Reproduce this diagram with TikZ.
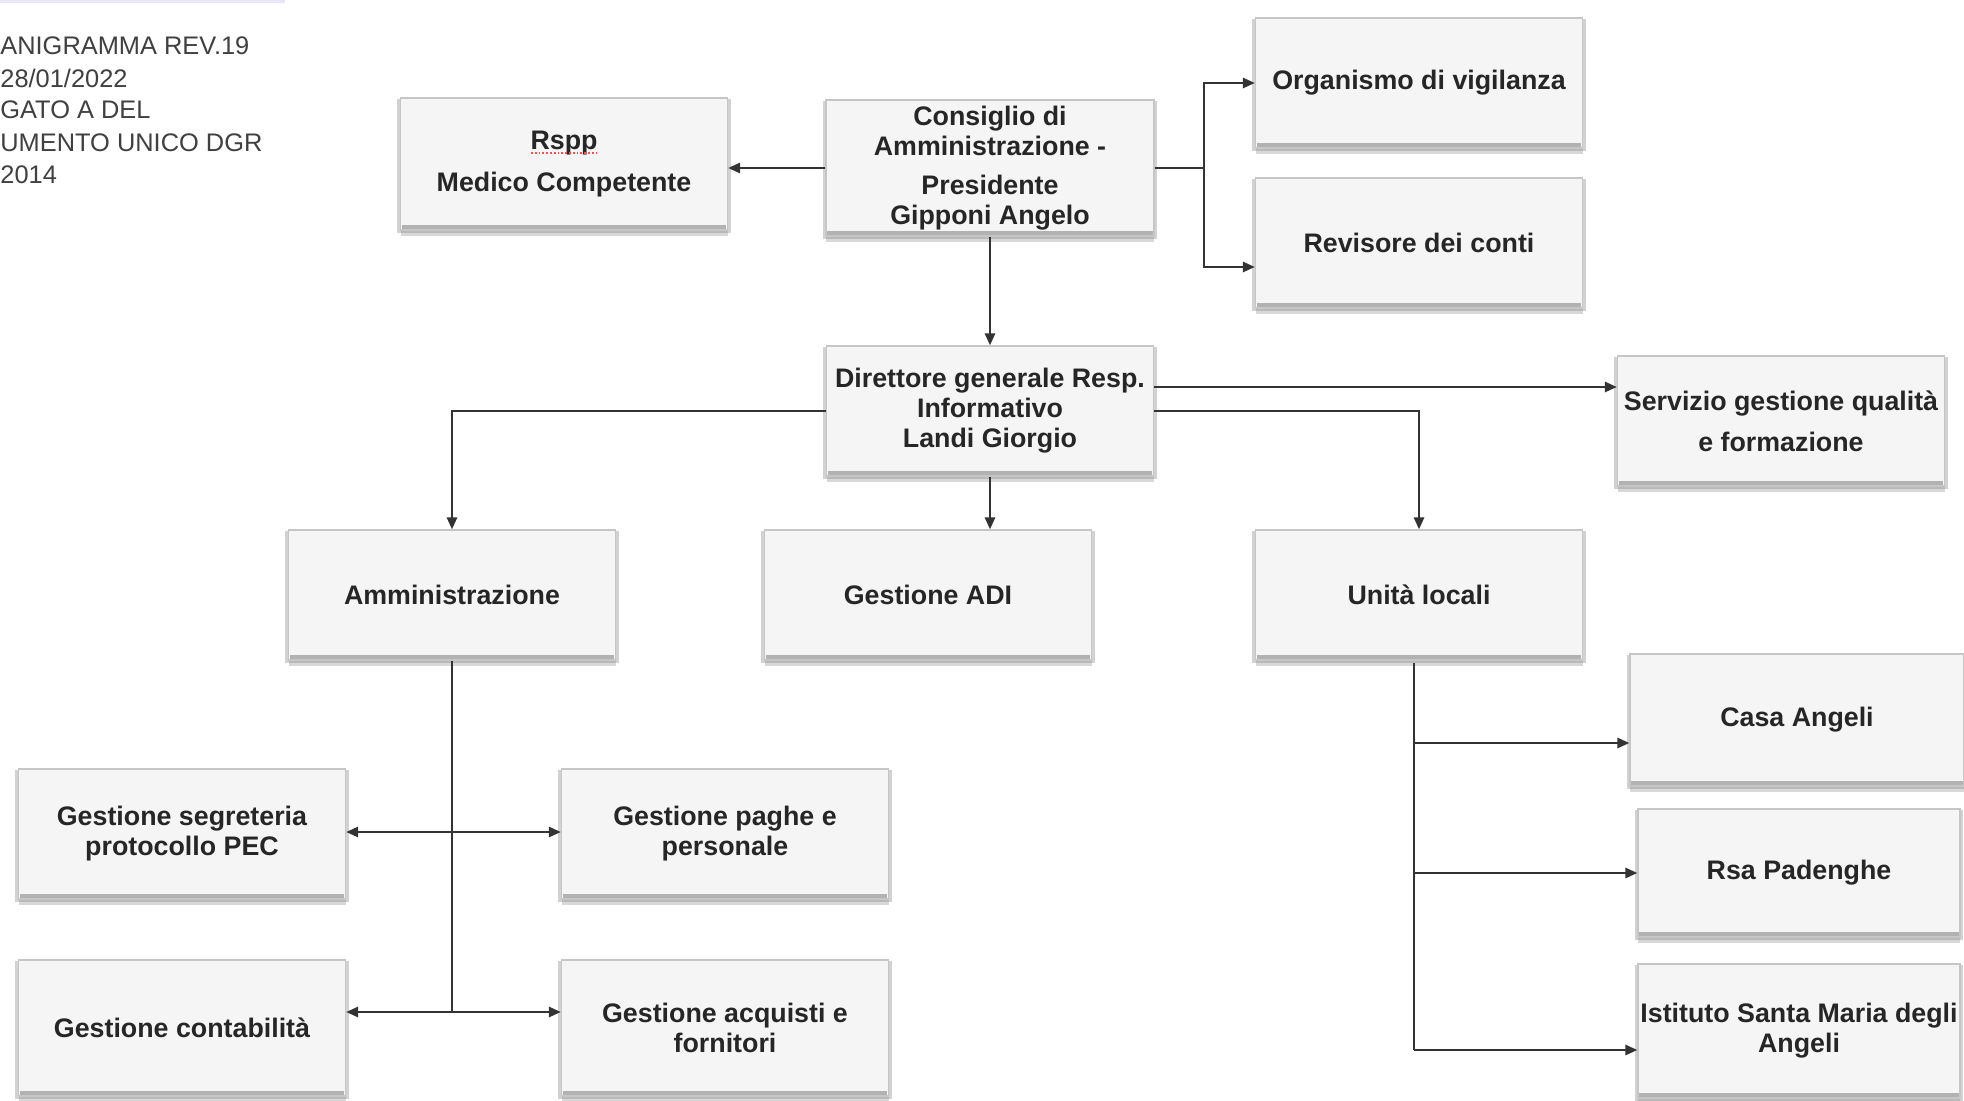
\documentclass[tikz,border=0pt]{standalone}
\usepackage{fontspec}
\setmainfont{Liberation Sans}
\usetikzlibrary{arrows.meta,shadows,calc}
\begin{document}
\begin{tikzpicture}[x=0.5pt,y=-0.5pt,
  orgbox/.style={draw=gray!45, line width=0.6pt, fill=black!4, minimum width=163.5pt, minimum height=65pt, inner sep=0pt, align=center, font=\bfseries\fontsize{13.4}{15}\selectfont, text=black!85,
    general shadow={fill=gray!35, shadow xshift=0pt, shadow yshift=-1pt, shadow scale=1.02},
    drop shadow={shadow xshift=0pt, shadow yshift=-3pt, opacity=0.3}},
  band/.style={draw=gray!60, line width=2pt},
  wire/.style={draw=black!80, line width=1.35pt},
  conn/.style={wire, -{Triangle[length=6pt,width=5pt]}},
  hdr/.style={anchor=west, inner sep=0pt, font=\fontsize{12.7}{15}\selectfont, text=black!75}]
\useasboundingbox (0,0) rectangle (1964,1101);
\fill[white] (0,0) rectangle (1964,1101);
% faint top rule
\draw[draw={rgb,255:red,230;green,230;blue,248}, line width=1.5pt] (0,2) -- (285,2);
% header text
\node[hdr] (h1) at (0,46) {ANIGRAMMA REV.19};
\node[hdr] (h2) at (0,78) {28/01/2022};
\node[hdr] (h3) at (0,110) {GATO A DEL};
\node[hdr] (h4) at (0,143) {UMENTO UNICO DGR};
\node[hdr] (h5) at (0,175) {2014};
% boxes
\node[orgbox, minimum height=66pt] (rspp) at (564,164) {Rspp\\[6pt]Medico Competente};
\node[orgbox, minimum width=164pt, minimum height=68pt] (cda) at (990,168) {Consiglio di\\Amministrazione -\\[4.5pt]Presidente\\Gipponi Angelo};
\node[orgbox] (odv) at (1419,83) {Organismo di vigilanza};
\node[orgbox] (rev) at (1419,243) {Revisore dei conti};
\node[orgbox] (dg) at (990,411) {Direttore generale Resp.\\Informativo\\Landi Giorgio};
\node[orgbox] (sgq) at (1781,421) {Servizio gestione qualità\\[5.5pt]e formazione};
\node[orgbox] (amm) at (452,595) {Amministrazione};
\node[orgbox] (adi) at (928,595) {Gestione ADI};
\node[orgbox] (ul) at (1419,595) {Unità locali};
\node[orgbox] (seg) at (182,834) {Gestione segreteria\\protocollo PEC};
\node[orgbox] (pag) at (725,834) {Gestione paghe e\\personale};
\node[orgbox, minimum height=68pt] (con) at (182,1028) {Gestione contabilità};
\node[orgbox, minimum height=68pt] (acq) at (725,1028) {Gestione acquisti e\\fornitori};
\node[orgbox, minimum width=167pt, minimum height=66pt] (casa) at (1797,720) {Casa Angeli};
\node[orgbox, minimum width=161pt, minimum height=64pt] (rsa) at (1799,873) {Rsa Padenghe};
\node[orgbox, minimum width=161pt, minimum height=67pt] (ist) at (1799,1031) {Istituto Santa Maria degli\\Angeli};
% bottom bands
\foreach \n in {rspp,cda,odv,rev,dg,sgq,amm,adi,ul,seg,pag,con,acq,casa,rsa,ist}
  \draw[band] ([xshift=1pt,yshift=1.6pt]\n.south west) -- ([xshift=-1pt,yshift=1.6pt]\n.south east);
% spell-check underline
\draw[red!70, densely dotted, line width=0.9pt] (531,153) -- (598,153);
% connectors
\draw[conn] (cda.west) -- (cda.west -| rspp.east);
\coordinate (j1) at (1204,168);
\draw[wire] (cda.east) -- (j1);
\draw[conn] (j1) |- (odv.west);
\coordinate (revin) at ([yshift=-12pt]rev.west);
\draw[conn] (j1) |- (revin);
\draw[conn] (cda.south) -- (dg.north);
\draw[conn] (dg.west) -| (amm.north);
\draw[conn] (dg.south) -- (dg.south |- adi.north);
\coordinate (dgq) at ([yshift=12pt]dg.east);
\draw[conn] (dgq) -- (dgq -| sgq.west);
\draw[conn] (dg.east) -| (ul.north);
% Amministrazione branches
\coordinate (a1) at (452,832);
\coordinate (a2) at (452,1012);
\draw[wire] (amm.south) -- (a2);
\draw[conn] (a1) -- (a1 -| seg.east);
\draw[conn] (a1) -- (a1 -| pag.west);
\draw[conn] (a2) -- (a2 -| con.east);
\draw[conn] (a2) -- (a2 -| acq.west);
% Unita locali branches
\coordinate (u0) at (1414,663);
\coordinate (u1) at (1414,743);
\coordinate (u2) at (1414,873);
\coordinate (u3) at (1414,1050);
\draw[wire] (u0) -- (u3);
\draw[conn] (u1) -- (u1 -| casa.west);
\draw[conn] (u2) -- (u2 -| rsa.west);
\draw[conn] (u3) -- (u3 -| ist.west);
\end{tikzpicture}
\end{document}
